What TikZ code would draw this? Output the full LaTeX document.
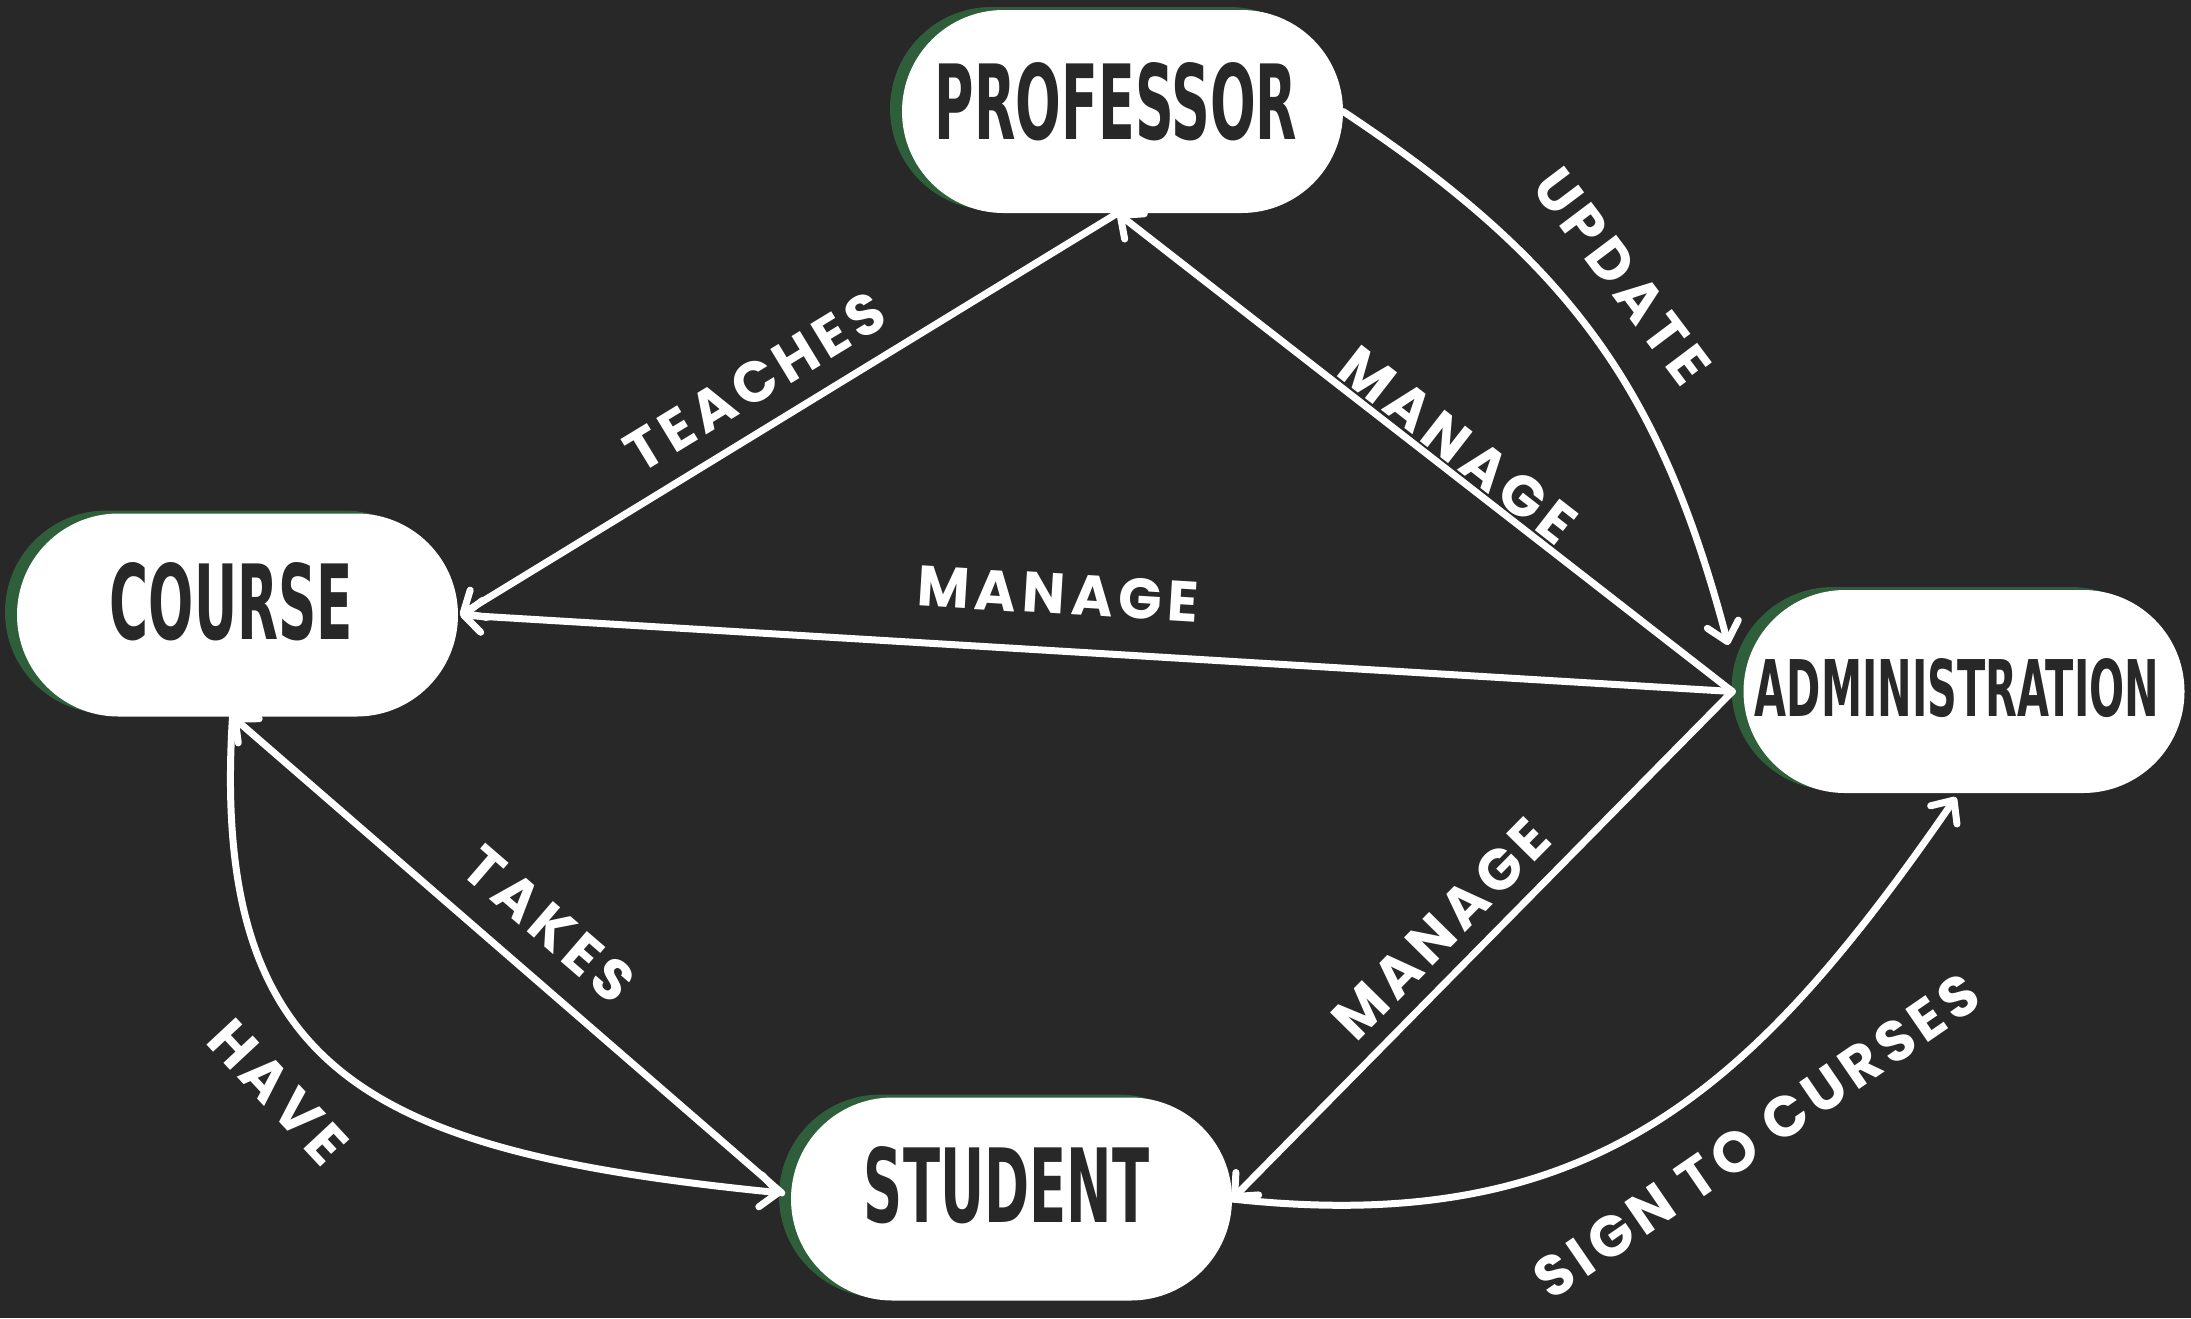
\documentclass[tikz,border=0pt]{standalone}
\usepackage{fontspec}
\usetikzlibrary{arrows.meta,shapes.misc,shadows}
\newfontfamily\nodefont{DejaVu Sans Condensed}
\newfontfamily\lblfont{Poppins}[LetterSpace=10]
\definecolor{bg}{RGB}{40,40,40}
\definecolor{pillgreen}{RGB}{46,94,58}
\newcommand{\pilltext}[3]{\resizebox{#1pt}{#2pt}{\nodefont\bfseries #3}}
\begin{document}
\begin{tikzpicture}[x=1pt,y=-1pt,
  pill/.style={rounded rectangle, fill=white, minimum width=441pt, minimum height=203pt, inner sep=0pt,
    general shadow={fill=pillgreen, shadow xshift=-12pt, shadow yshift=3pt}},
  ptext/.style={inner sep=0pt, text=bg},
  conn/.style={draw=white, line width=7pt, line cap=round, -{Straight Barb[length=18pt,width=32pt,round]}},
  lbl/.style={inner sep=0pt, text=white, font={\lblfont\bfseries\fontsize{57}{60}\selectfont}}
]
\useasboundingbox (0,0) rectangle (2191,1318);
\fill[bg] (0,0) rectangle (2191,1318);

\node[pill] (prof) at (1122.5,111.5) {};
\node[pill] (crs) at (237.5,615) {};
\node[pill] (adm) at (1964,691.5) {};
\node[pill] (stu) at (1011.5,1199) {};

\node[ptext] (profT) at (1116,101.5) {\pilltext{362}{77}{PROFESSOR}};
\node[ptext] (crsT) at (231.5,601.5) {\pilltext{243}{77}{COURSE}};
\node[ptext] (admT) at (1957,688) {\pilltext{404}{58}{ADMINISTRATION}};
\node[ptext] (stuT) at (1006.5,1185) {\pilltext{285}{76}{STUDENT}};

\coordinate (admL) at ([xshift=-11pt]adm.west);
\coordinate (profB) at ([xshift=-5pt]prof.south);
\coordinate (crsR) at ([xshift=2pt]crs.east);
\coordinate (crsB) at ([xshift=-5pt]crs.south);
\coordinate (stuR) at (stu.east);
\coordinate (stuL) at ([shift={(-9pt,6pt)}]stu.west);
\coordinate (admTL) at ([shift={(-15pt,46.5pt)}]adm.west);
\coordinate (admB) at ([shift={(-8pt,-4pt)}]adm.south);
\coordinate (profR) at (prof.east);

\draw[conn] (profB) -- (crsR);
\draw[conn] (admL) -- (crsR);
\draw[conn] (admL) -- (profB);
\draw[conn] (admL) -- (stuR);
\draw[conn] (stuL) -- (crsB);
\draw[conn] (profR) .. controls (1575,265) and (1662,394) .. (admTL);
\draw[conn] (crsB) .. controls (210,1075) and (372,1152) .. (stuL);
\draw[conn] (stuR) .. controls (1591,1238) and (1751,1094) .. (admB);

\node[lbl, rotate=31.3] (lTeach) at (755,382) {TEACHES};
\node[lbl, rotate=-3.5] (lMan1) at (1058,594) {MANAGE};
\node[lbl, rotate=-37.9] (lMan2) at (1458,445) {MANAGE};
\node[lbl, rotate=-53] (lUpd) at (1622,276) {UPDATE};
\node[lbl, rotate=45.4] (lMan3) at (1441,929) {MANAGE};
\node[lbl, rotate=-40.8] (lTakes) at (549,924) {TAKES};
\node[lbl, rotate=-47] (lHave) at (278,1092) {HAVE};
\node[lbl, rotate=34.5] (lSign) at (1757,1136) {SIGN TO CURSES};
\end{tikzpicture}
\end{document}
